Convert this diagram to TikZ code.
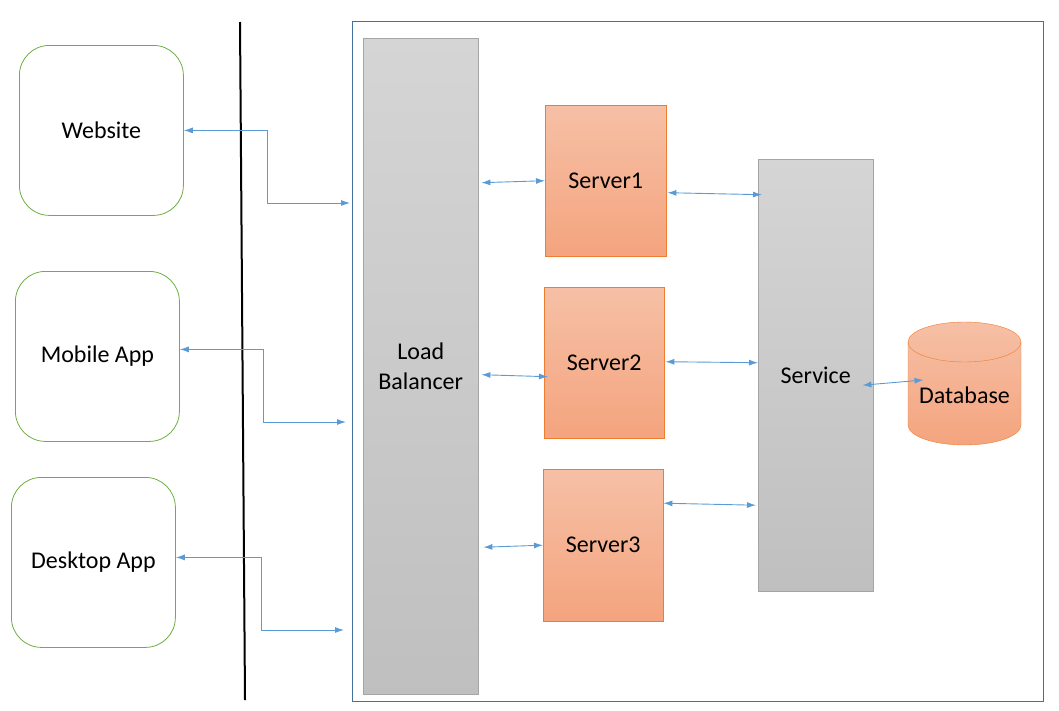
\documentclass[tikz,border=0pt]{standalone}
\usepackage{fontspec}
\setmainfont{Carlito}
\usetikzlibrary{arrows.meta}

\definecolor{clientgreen}{HTML}{70AD47}
\definecolor{frameblue}{HTML}{41719C}
\definecolor{linkblue}{HTML}{5B9BD5}
\definecolor{boxgray}{HTML}{A5A5A5}
\definecolor{servborder}{HTML}{ED7D31}
\definecolor{servtop}{HTML}{F6C0A6}
\definecolor{servbottom}{HTML}{F4A47E}

\tikzset{
  >={Latex[length=9pt,width=6pt]},
  label font/.style={font=\fontsize{24}{30}\selectfont},
  client/.style={draw=clientgreen, line width=0.8pt, rounded corners=30pt, anchor=north west,
    minimum width=164pt, minimum height=170pt, label font},
  backframe/.style={draw=frameblue, line width=0.8pt, anchor=north west,
    minimum width=691pt, minimum height=680pt},
  graybox/.style={draw=boxgray, top color=gray!33, bottom color=gray!50, anchor=north west,
    align=center, label font},
  server/.style={draw=servborder, top color=servtop, bottom color=servbottom,
    anchor=north west, minimum width=120pt, minimum height=151pt, label font},
  link/.style={<->, draw=linkblue, line width=0.9pt}
}

\begin{document}
\begin{tikzpicture}[x=1pt,y=-1pt]
\useasboundingbox (0,0) rectangle (1059,710);

% clients
\node[client] (web) at (19,45) {Website};
\node[client] (mobile) at (15,271) {Mobile App};
\node[client] (desk) at (11,477) {Desktop App};

% dividing line
\draw[line width=2pt] (240,22) -- (245,700);

% back end
\node[backframe] (back) at (352,21) {};
\node[graybox, minimum width=115pt, minimum height=656pt] (lb) at (363,38) {Load\\Balancer};
\node[server, minimum width=121pt] (s1) at (545,105) {Server1};
\node[server] (s2) at (544,287) {Server2};
\node[server, minimum height=152pt] (s3) at (543,469) {Server3};
\node[graybox, minimum width=115pt, minimum height=432pt] (svc) at (758,159) {Service};

% database cylinder
\draw[servborder, top color=servtop, bottom color=servbottom]
  (908,342) -- (908,425) arc (180:360:56.5pt and 20pt) -- (1021,342) arc (0:180:56.5pt and 20pt) -- cycle;
\draw[servborder] (908,342) arc (180:360:56.5pt and 20pt);
\node[label font] (db) at (964.5,395) {Database};

% client links
\coordinate (webin) at (350,203);
\coordinate (mobin) at (346,422);
\coordinate (deskin) at (344,630);
\draw[link] (web.east) -- ++(84,0) |- (webin);
\draw[link] ([yshift=7pt]mobile.east) -- ++(84,0) |- (mobin);
\draw[link] ([yshift=5pt]desk.east) -- ++(86,0) |- (deskin);

% load balancer to servers
\draw[link] ([shift={(3,2)}]lb.east |- s1.west) -- (s1.west);
\draw[link] ([shift={(3,12)}]lb.east |- s2.west) -- ([shift={(4,14)}]s2.west);
\draw[link] ([shift={(5,2)}]lb.east |- s3.west) -- (s3.west);

% servers to service
\draw[link] ([shift={(1,12)}]s1.east) -- ([shift={(4,14)}]svc.west |- s1.east);
\draw[link] ([shift={(1,-1)}]s2.east) -- (svc.west |- s2.east);
\draw[link] ([yshift=42pt]s3.east) -- ([shift={(-2,-40)}]svc.west |- s3.east);

% service to database
\draw[link] ([shift={(-11,10)}]svc.east) -- ([shift={(-41,-15)}]db.center);

\end{tikzpicture}
\end{document}
